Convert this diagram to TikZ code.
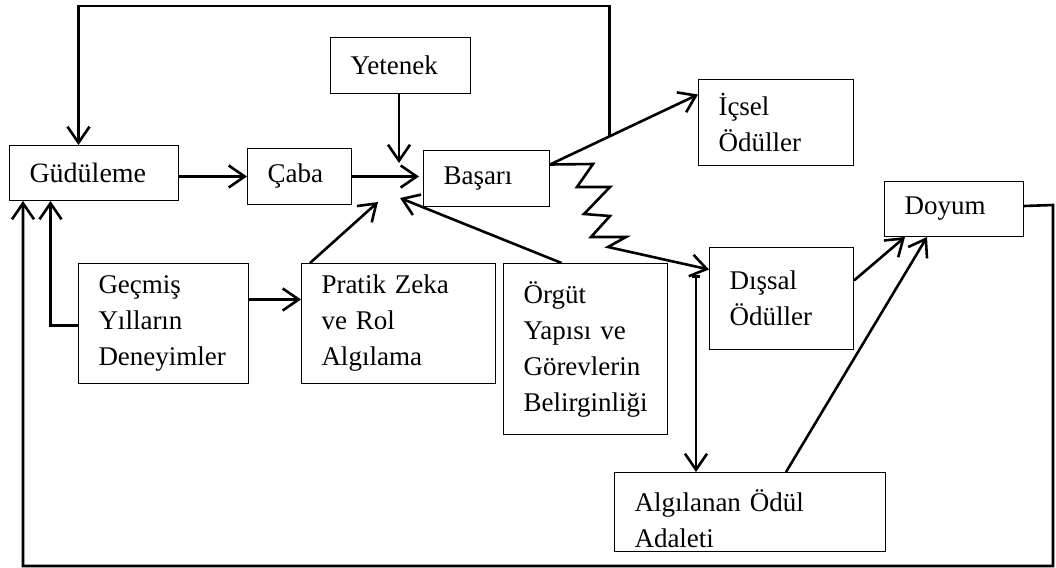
\documentclass[tikz,border=0pt]{standalone}
\usepackage{fontspec}
\setmainfont{Liberation Serif}
\usetikzlibrary{arrows.meta,calc}
\begin{document}
\begin{tikzpicture}[x=1pt,y=-1pt,
  box/.style={draw, line width=1pt, anchor=north west, inner xsep=20pt, inner ysep=0pt,
    align=left, font=\fontsize{27}{36}\selectfont},
  conn/.style={line width=2.6pt, line join=miter},
  arr/.style={conn, -{Straight Barb[length=16pt,width=22pt]}}]
\useasboundingbox (0,0) rectangle (1056,567);

% boxes
\node[box, minimum width=169pt, minimum height=55pt, text width=129pt, font=\fontsize{28}{36}\selectfont] (gud) at (9,145) {Güdüleme};
\node[box, minimum width=104pt, minimum height=56pt, text width=64pt] (caba) at (247,148) {Çaba};
\node[box, minimum width=140pt, minimum height=56pt, text width=100pt] (yet) at (330,37) {Yetenek};
\node[box, minimum width=126pt, minimum height=56pt, text width=86pt] (bas) at (423,150) {Başarı};
\node[box, minimum width=155pt, minimum height=86pt, text width=115pt] (icsel) at (698,79) {İçsel\\Ödüller};
\node[box, minimum width=139pt, minimum height=55pt, text width=99pt] (doyum) at (884,181) {Doyum};
\node[box, minimum width=144pt, minimum height=102pt, text width=104pt] (dissal) at (709,247) {Dışsal\\Ödüller};
\node[box, minimum width=170pt, minimum height=120pt, text width=130pt] (gecmis) at (78,263) {Geçmiş\\Yılların\\Deneyimler};
\node[box, minimum width=194pt, minimum height=120pt, text width=154pt] (pratik) at (301,263) {Pratik Zeka\\ve Rol\\Algılama};
\node[box, minimum width=164pt, minimum height=171pt, text width=124pt] (orgut) at (503,263) {Örgüt\\Yapısı ve\\Görevlerin\\Belirginliği};
\node[box, minimum width=271pt, minimum height=79pt, text width=231pt] (adalet) at (614,472)
  {\raisebox{-7pt}[\height][\depth]{\parbox[b]{231pt}{\raggedright Algılanan Ödül\\Adaleti}}};

% connector end points
\coordinate (b1) at ([yshift=14pt]bas.east);
\coordinate (i1) at ([yshift=28pt]icsel.west);
\coordinate (jn) at ($(b1)!0.4!(i1)$);
\coordinate (hubY) at (399,163);
\coordinate (hubP) at (378,202);
\coordinate (hubO) at (400,198);
\coordinate (d1) at ([yshift=29pt]dissal.west);
\coordinate (vtop) at (696,275);

% feedback from performance to motivation
\draw[arr] (jn) -- (jn |- 0,6) -| ([xshift=-15.5pt]gud.north);

% main chain
\draw[arr] (gud.east |- caba.west) -- (caba.west);
\draw[arr, shorten >=4pt] (caba.east) -- (caba.east -| bas.west);
\draw[arr] (yet.south -| hubY) -- (hubY);
\draw[arr] ([xshift=9pt]pratik.north west) -- (hubP);
\draw[arr] ([xshift=-24pt]orgut.north) -- (hubO);

% rewards
\draw[arr] (b1) -- (i1);
\draw[arr] (b1) -- (593,164) -- (577,187) -- (610,187) -- (584,214) -- (610,216)
  -- (591,237) -- (626,237) -- (608,247) -- (d1);
\draw[conn, {Bar[width=8pt]}-{Straight Barb[length=16pt,width=22pt]}] (vtop) -- (vtop |- adalet.north);
\draw[arr] ([yshift=18pt]dissal.east) -- ([xshift=21pt]doyum.south west);
\draw[arr] ([xshift=172pt]adalet.north west) -- ([xshift=43pt]doyum.south west);

% satisfaction feeds back to motivation
\draw[arr] ([yshift=3pt]doyum.east) -- (1053,205) -- (1053,566) -- (23,566) -- (23,0 |- gud.south);

% past experience
\draw[arr] ([yshift=-2pt]gecmis.west) -| ([xshift=-43.5pt]gud.south);
\draw[arr] ([yshift=24pt]gecmis.east) -- ([yshift=24pt]pratik.west);
\end{tikzpicture}
\end{document}
